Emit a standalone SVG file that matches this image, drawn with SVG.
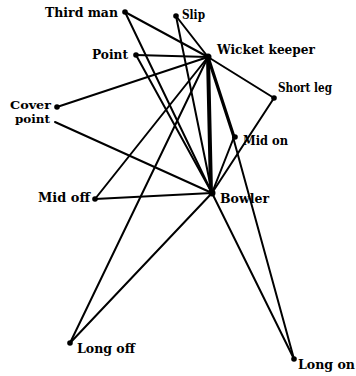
<svg xmlns="http://www.w3.org/2000/svg" width="356" height="376" viewBox="0 0 356 376">
<style>
.e{stroke:#000;stroke-width:2;fill:none;stroke-linecap:round}
.t{stroke-width:4}
.m{stroke-width:3.2}
.d{fill:#000}
text{font-family:"DejaVu Serif","Liberation Serif",serif;font-weight:bold;font-size:12.5px;fill:#000}
.s{font-size:11.5px}
</style>
<rect width="356" height="376" fill="#fff"/>
<g id="connectors">
<line class="e" x1="125" y1="12" x2="208" y2="57"/>
<line class="e" x1="125" y1="12" x2="212" y2="193"/>
<line class="e" x1="176" y1="16" x2="208" y2="57"/>
<line class="e" x1="176" y1="16" x2="212" y2="193"/>
<line class="e" x1="136" y1="55" x2="208" y2="57"/>
<line class="e" x1="136" y1="55" x2="212" y2="193"/>
<line class="e" x1="57" y1="107" x2="208" y2="57"/>
<line class="e" x1="55" y1="122" x2="212" y2="193"/>
<line class="e" x1="274" y1="98" x2="208" y2="57"/>
<line class="e" x1="274" y1="98" x2="212" y2="193"/>
<line class="e t" x1="208" y1="57" x2="211" y2="193"/>
<line class="e m" x1="208" y1="57" x2="234" y2="137"/>
<line class="e" x1="234" y1="137" x2="212" y2="193"/>
<line class="e" x1="233" y1="137" x2="294" y2="359"/>
<line class="e" x1="95" y1="199" x2="212" y2="193"/>
<line class="e" x1="95" y1="199" x2="208" y2="57"/>
<line class="e" x1="70" y1="343" x2="208" y2="57"/>
<line class="e" x1="70" y1="343" x2="212" y2="193"/>
<line class="e" x1="294" y1="359" x2="212" y2="193"/>
</g>
<g id="third-man"><circle class="d" cx="125" cy="12" r="2.8"/><text x="45" y="17" textLength="73" lengthAdjust="spacingAndGlyphs">Third man</text></g>
<g id="slip"><circle class="d" cx="176" cy="16" r="2.8"/><text x="182" y="19" textLength="23" lengthAdjust="spacingAndGlyphs">Slip</text></g>
<g id="wicket-keeper"><circle class="d" cx="208" cy="57" r="3.5"/><text x="217" y="54" textLength="98" lengthAdjust="spacingAndGlyphs">Wicket keeper</text></g>
<g id="point"><circle class="d" cx="136" cy="55" r="2.8"/><text x="92" y="59" textLength="36" lengthAdjust="spacingAndGlyphs">Point</text></g>
<g id="short-leg"><circle class="d" cx="274" cy="98" r="2.8"/><text x="278" y="92" textLength="54" lengthAdjust="spacingAndGlyphs">Short leg</text></g>
<g id="cover-point"><circle class="d" cx="57" cy="107" r="2.8"/><text class="s" x="10" y="109" textLength="41" lengthAdjust="spacingAndGlyphs">Cover</text><text class="s" x="15" y="123" textLength="35" lengthAdjust="spacingAndGlyphs">point</text></g>
<g id="mid-on"><circle class="d" cx="235" cy="137" r="2.8"/><text x="243" y="145" textLength="45" lengthAdjust="spacingAndGlyphs">Mid on</text></g>
<g id="bowler"><circle class="d" cx="212" cy="193" r="3.5"/><text x="220" y="203" textLength="49" lengthAdjust="spacingAndGlyphs">Bowler</text></g>
<g id="mid-off"><circle class="d" cx="95" cy="199" r="2.8"/><text x="38" y="202" textLength="52" lengthAdjust="spacingAndGlyphs">Mid off</text></g>
<g id="long-off"><circle class="d" cx="70" cy="343" r="2.8"/><text x="77" y="353" textLength="58" lengthAdjust="spacingAndGlyphs">Long off</text></g>
<g id="long-on"><circle class="d" cx="294" cy="359" r="2.8"/><text x="298" y="369" textLength="57" lengthAdjust="spacingAndGlyphs">Long on</text></g>
</svg>
